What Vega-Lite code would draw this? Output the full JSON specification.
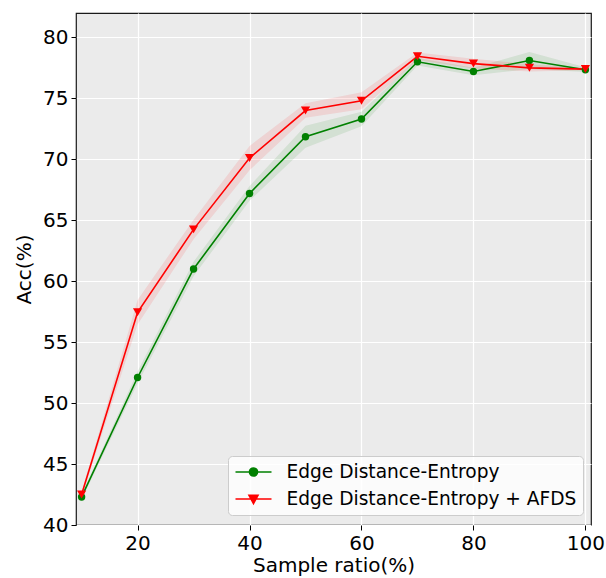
{
  "$schema": "https://vega.github.io/schema/vega-lite/v6.json",
  "autosize": "none",
  "width": 515,
  "height": 512,
  "padding": {"left": 76, "top": 13, "right": 15, "bottom": 53},
  "background": "white",
  "config": {
    "font": "DejaVu Sans",
    "view": {"fill": "#ebebeb", "stroke": "#1a1a1a", "strokeWidth": 1.2},
    "axis": {
      "gridColor": "white", "gridWidth": 1.2, "gridOpacity": 1,
      "domain": false, "tickColor": "#000", "tickSize": 5, "tickWidth": 1,
      "labelFont": "DejaVu Sans", "labelFontSize": 20, "labelColor": "#000",
      "titleFont": "DejaVu Sans", "titleFontSize": 20, "titleFontWeight": "normal", "titleColor": "#000",
      "labelFlush": false, "labelOverlap": false
    }
  },
  "data": {"values": [
    {"ratio": 10, "series": "Edge Distance-Entropy", "acc": 42.3, "lo": 42.1, "hi": 42.5},
    {"ratio": 20, "series": "Edge Distance-Entropy", "acc": 52.1, "lo": 51.6, "hi": 52.6},
    {"ratio": 30, "series": "Edge Distance-Entropy", "acc": 61.0, "lo": 60.4, "hi": 61.6},
    {"ratio": 40, "series": "Edge Distance-Entropy", "acc": 67.2, "lo": 66.6, "hi": 67.8},
    {"ratio": 50, "series": "Edge Distance-Entropy", "acc": 71.85, "lo": 70.95, "hi": 72.75},
    {"ratio": 60, "series": "Edge Distance-Entropy", "acc": 73.3, "lo": 72.7, "hi": 73.9},
    {"ratio": 70, "series": "Edge Distance-Entropy", "acc": 78.0, "lo": 77.7, "hi": 78.3},
    {"ratio": 80, "series": "Edge Distance-Entropy", "acc": 77.2, "lo": 76.9, "hi": 77.5},
    {"ratio": 90, "series": "Edge Distance-Entropy", "acc": 78.1, "lo": 77.4, "hi": 78.8},
    {"ratio": 100, "series": "Edge Distance-Entropy", "acc": 77.35, "lo": 77.15, "hi": 77.55},
    {"ratio": 10, "series": "Edge Distance-Entropy + AFDS", "acc": 42.5, "lo": 42.3, "hi": 42.7},
    {"ratio": 20, "series": "Edge Distance-Entropy + AFDS", "acc": 57.45, "lo": 56.45, "hi": 58.45},
    {"ratio": 30, "series": "Edge Distance-Entropy + AFDS", "acc": 64.25, "lo": 63.45, "hi": 65.05},
    {"ratio": 40, "series": "Edge Distance-Entropy + AFDS", "acc": 70.1, "lo": 69.1, "hi": 71.1},
    {"ratio": 50, "series": "Edge Distance-Entropy + AFDS", "acc": 74.0, "lo": 73.4, "hi": 74.6},
    {"ratio": 60, "series": "Edge Distance-Entropy + AFDS", "acc": 74.8, "lo": 74.1, "hi": 75.5},
    {"ratio": 70, "series": "Edge Distance-Entropy + AFDS", "acc": 78.45, "lo": 78.15, "hi": 78.75},
    {"ratio": 80, "series": "Edge Distance-Entropy + AFDS", "acc": 77.85, "lo": 77.45, "hi": 78.25},
    {"ratio": 90, "series": "Edge Distance-Entropy + AFDS", "acc": 77.5, "lo": 77.2, "hi": 77.8},
    {"ratio": 100, "series": "Edge Distance-Entropy + AFDS", "acc": 77.4, "lo": 77.3, "hi": 77.5}
  ]},
  "encoding": {
    "x": {"field": "ratio", "type": "quantitative", "scale": {"domain": [9, 101], "nice": false, "zero": false},
      "axis": {"title": "Sample ratio(%)", "values": [20, 40, 60, 80, 100], "labelPadding": 3, "titlePadding": 2}},
    "color": {"field": "series", "type": "nominal",
      "scale": {"domain": ["Edge Distance-Entropy", "Edge Distance-Entropy + AFDS"], "range": ["#008000", "#ff0000"]},
      "legend": {
        "title": null, "orient": "none", "legendX": 152, "legendY": 443,
        "padding": 6, "rowPadding": 7, "symbolSize": 324, "symbolStrokeWidth": 1.6,
        "symbolOffset": 9.5, "labelOffset": 23, "labelFontSize": 18.6, "labelFont": "DejaVu Sans", "labelColor": "#000",
        "labelLimit": 400,
        "fillColor": "rgba(255,255,255,0.8)", "strokeColor": "#cccccc", "cornerRadius": 4,
        "encode": {"symbols": {"update": {
          "shape": {"signal": "datum.value === 'Edge Distance-Entropy' ? 'M-2,0L2,0M-0.45,0A0.45,0.45 0 1,0 0.45,0A0.45,0.45 0 1,0 -0.45,0Z' : 'M-2,0L2,0M-0.5,-0.42L0.5,-0.42L0,0.5Z'"},
          "fill": {"signal": "datum.value === 'Edge Distance-Entropy' ? '#008000' : '#ff0000'"},
          "stroke": {"signal": "datum.value === 'Edge Distance-Entropy' ? '#008000' : '#ff0000'"},
          "strokeWidth": {"value": 1.6},
          "size": {"value": 324},
          "fillOpacity": {"value": 1},
          "strokeOpacity": {"value": 1},
          "opacity": {"value": 1}
        }}}
      }
    }
  },
  "layer": [
    {
      "mark": {"type": "area", "opacity": 0.1},
      "encoding": {
        "y": {"field": "lo", "type": "quantitative", "scale": {"domain": [40, 82], "nice": false, "zero": false},
          "axis": {"title": "Acc(%)", "values": [40, 45, 50, 55, 60, 65, 70, 75, 80], "labelPadding": 3, "titlePadding": 8}},
        "y2": {"field": "hi"}
      }
    },
    {
      "mark": {"type": "line", "strokeWidth": 1.6},
      "encoding": {
        "y": {"field": "acc", "type": "quantitative"}
      }
    },
    {
      "transform": [{"filter": "datum.series === 'Edge Distance-Entropy'"}],
      "mark": {"type": "point", "filled": true, "opacity": 1, "shape": "circle", "size": 55},
      "encoding": {
        "y": {"field": "acc", "type": "quantitative"}
      }
    },
    {
      "transform": [{"filter": "datum.series === 'Edge Distance-Entropy + AFDS'"}],
      "mark": {"type": "point", "filled": true, "opacity": 1, "shape": "triangle-down", "size": 85},
      "encoding": {
        "y": {"field": "acc", "type": "quantitative"}
      }
    }
  ]
}
